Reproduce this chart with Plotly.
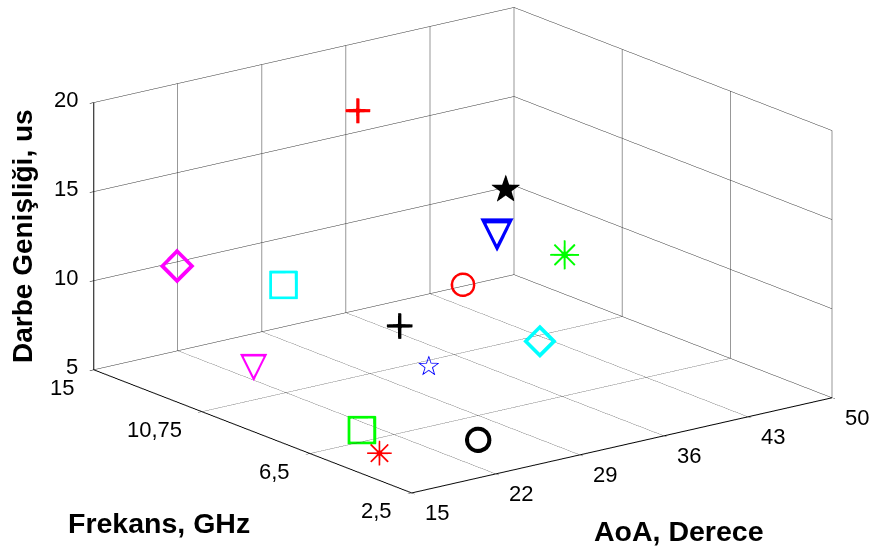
import plotly.graph_objects as go

# AoA (deg), Frequency (GHz), Pulse width (us) for each emitter
aoa  = [30.2, 21.4, 24.4, 44.4, 42.4, 45.7, 38.7, 32.2, 30.8, 37.5, 21.3, 19.7, 18.0, 24.5]
freq = [11.8, 14.76, 12.0, 12.7, 12.1, 11.0, 11.7, 11.1, 9.3, 8.1, 11.7, 6.7, 5.2, 4.4]
pw   = [19.0, 10.0, 10.0, 12.0, 10.0, 9.0, 8.0, 7.0, 6.0, 7.0, 6.0, 5.5, 5.3, 5.5]
symbols = ["plus", "diamond", "square", "star-filled", "triangle-bold", "asterisk-bold", "circle",
           "plus-bold", "star", "diamond-bold", "triangle", "square", "asterisk", "circle-bold"]
colors = ["#FF0000", "#FF00FF", "#00FFFF", "#000000", "#0000FF", "#00FF00", "#FF0000",
          "#000000", "#0000FF", "#00FFFF", "#FF00FF", "#00FF00", "#FF0000", "#000000"]

aoa_ticks = [15, 22, 29, 36, 43, 50]
aoa_ticktext = ["15", "22", "29", "36", "43", "50"]
freq_ticks = [2.5, 6.5, 10.75, 15]
freq_ticktext = ["2,5", "6,5", "10,75", "15"]
pw_ticks = [5, 10, 15, 20]
pw_ticktext = ["5", "10", "15", "20"]

# marker styles: (kind, glyph/symbol, overlaid sizes)
styles = {
    "plus":          ("text", "+", [40]),
    "plus-bold":     ("text", "+", [40, 41]),
    "star-filled":   ("text", "★", [34, 36, 38]),
    "star":          ("text", "☆", [28]),
    "triangle":      ("text", "▽", [34, 36]),
    "triangle-bold": ("text", "▽", [36, 38, 40, 42, 44]),
    "asterisk":      ("text", "✳", [32, 34]),
    "asterisk-bold": ("text", "✳", [32, 35, 38, 40]),
    "circle":        ("marker", "circle-open", [14]),
    "circle-bold":   ("marker", "circle-open", [13, 13.5, 14, 14.5, 15]),
    "diamond":       ("marker", "diamond-open", [10, 10.5, 11, 11.5]),
    "diamond-bold":  ("marker", "diamond-open", [9.5, 10, 10.5, 11]),
    "square":        ("marker", "square-open", [11, 11.5, 12]),
}

fig = go.Figure()
for a, f, p, s, c in zip(aoa, freq, pw, symbols, colors):
    kind, glyph, sizes = styles[s]
    for sz in sizes:
        if kind == "marker":
            fig.add_trace(go.Scatter3d(x=[a], y=[f], z=[p], mode="markers",
                                       marker=dict(symbol=glyph, size=sz, color=c),
                                       showlegend=False, hoverinfo="skip"))
        else:
            fig.add_trace(go.Scatter3d(x=[a], y=[f], z=[p], mode="text", text=[glyph],
                                       textposition="middle center",
                                       textfont=dict(size=sz, color=c, family="DejaVu Sans"),
                                       showlegend=False, hoverinfo="skip"))

axis_common = dict(showgrid=True, gridcolor="#303030", gridwidth=1,
                   showline=True, linecolor="black", linewidth=2,
                   ticks="outside", ticklen=5, tickcolor="black",
                   showticklabels=False,
                   showbackground=False, zeroline=False, showspikes=False,
                   title=dict(text=""))

tick_font = dict(family="Liberation Sans, Arial", size=22, color="black")
scene_ann = []
for v, t in zip(aoa_ticks, aoa_ticktext):
    scene_ann.append(dict(x=v, y=freq_ticks[0], z=pw_ticks[0], text=t, showarrow=False,
                          xanchor="left", yanchor="middle", xshift=11, yshift=-20, font=tick_font))
for v, t in zip(freq_ticks, freq_ticktext):
    scene_ann.append(dict(x=aoa_ticks[0], y=v, z=pw_ticks[0], text=t, showarrow=False,
                          xanchor="right", yanchor="middle", xshift=-18, yshift=-18, font=tick_font))
for v, t in zip(pw_ticks, pw_ticktext):
    scene_ann.append(dict(x=aoa_ticks[0], y=freq_ticks[-1], z=v, text=t, showarrow=False,
                          xanchor="right", yanchor="middle", xshift=-14, yshift=3, font=tick_font))

title_font = dict(family="Liberation Sans, Arial", size=28.5, color="black")
fig.update_layout(
    width=874, height=554,
    margin=dict(l=0, r=0, t=0, b=0),
    paper_bgcolor="white",
    font=dict(family="Liberation Sans, Arial"),
    scene=dict(
        domain=dict(x=[0, 1], y=[0, 1]),
        xaxis=dict(range=[15, 50], tickvals=aoa_ticks, **axis_common),
        yaxis=dict(range=[2.5, 15], tickvals=freq_ticks, **axis_common),
        zaxis=dict(range=[5, 20], tickvals=pw_ticks, **axis_common),
        aspectmode="manual",
        aspectratio=dict(x=1.91, y=1.89, z=1.01),
        camera=dict(eye=dict(x=-1.1357, y=-1.3318, z=0.4405),
                    center=dict(x=-0.0917, y=0.0339, z=-0.0925),
                    up=dict(x=0, y=0, z=1),
                    projection=dict(type="orthographic")),
        annotations=scene_ann,
    ),
    annotations=[
        dict(text="<b>Darbe Genişliği, us</b>", x=22/874, y=1-236/554, xref="paper", yref="paper",
             xanchor="center", yanchor="middle",
             textangle=-90, showarrow=False, font=dict(title_font, size=28)),
        dict(text="<b>Frekans, GHz</b>", x=159/874, y=1-523/554, xref="paper", yref="paper",
             xanchor="center", yanchor="middle", showarrow=False, font=title_font),
        dict(text="<b>AoA, Derece</b>", x=678/874, y=1-531/554, xref="paper", yref="paper",
             xanchor="center", yanchor="middle", showarrow=False, font=title_font),
    ],
)

fig.write_html("out.html", config={"displayModeBar": False},
               post_script="document.body.style.margin='0';document.body.style.overflow='hidden';")
